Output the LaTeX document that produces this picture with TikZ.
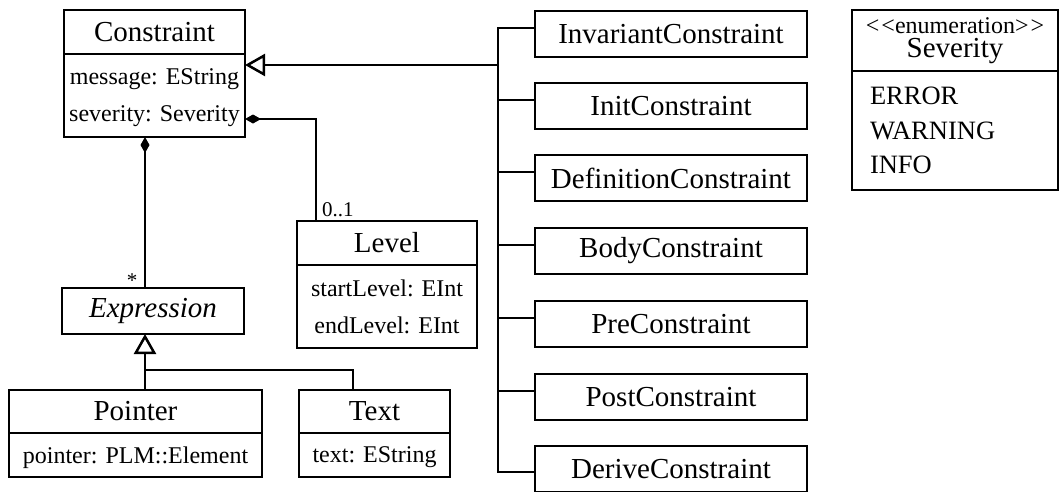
\documentclass[tikz,border=0pt]{standalone}
\usepackage{fontspec}
\setmainfont{Liberation Serif}
\usetikzlibrary{arrows.meta, positioning}

\newcommand{\clsfont}{\fontsize{29}{32}\selectfont}
\newcommand{\attfont}{\fontsize{24}{37}\selectfont}
\newcommand{\litfont}{\fontsize{26.5}{34.5}\selectfont}
\newcommand{\mulfont}{\fontsize{21}{24}\selectfont}
\newcommand{\stereofont}{\fontsize{24}{26}\selectfont}

\begin{document}
\begin{tikzpicture}[x=1pt, y=-1pt,
        uml/.style={draw, line width=2.5pt, inner sep=0pt, outer sep=0pt, align=center},
        cls/.style={uml, font=\clsfont, minimum height=44pt},
        att/.style={uml, font=\attfont, text depth=0pt},
        sub/.style={uml, font=\clsfont, minimum width=272pt, minimum height=46pt},
        conn/.style={line width=2.5pt},
        gen/.style={conn, -{Triangle[open, length=20pt, width=22pt]}},
        comp/.style={conn, -{Diamond[length=16pt, width=9pt]}},
        mult/.style={font=\mulfont, inner sep=0pt}
    ]
        \useasboundingbox (0,0) rectangle (1059,491);
        \clip (0,0) rectangle (1059,491);

        % classes on the left
        \node[cls, minimum width=181pt] (conH) at (154.5,32) {Constraint};
        \node[att, minimum width=181pt, minimum height=83pt, below=0pt of conH] (conA) {message: EString\\severity: Severity};
        \node[cls, minimum width=180pt] (lvlH) at (387,243) {Level};
        \node[att, minimum width=180pt, minimum height=83pt, below=0pt of lvlH] (lvlA) {startLevel: EInt\\endLevel: EInt};
        \node[cls, minimum width=182pt, minimum height=46pt, font=\clsfont\itshape] (expr) at (153,311) {Expression};
        \node[cls, minimum width=253pt, minimum height=43pt] (pntH) at (135.5,411.5) {Pointer};
        \node[att, minimum width=253pt, minimum height=44pt, below=0pt of pntH] (pntA) {pointer: PLM::Element};
        \node[cls, minimum width=151pt, minimum height=43pt] (txtH) at (374.5,411.5) {Text};
        \node[att, minimum width=151pt, minimum height=44pt, below=0pt of txtH] (txtA) {text: EString};

        % subclasses
        \foreach \n/\nm/\y in {inv/Invariant/34, ini/Init/106, def/Definition/178, bod/Body/251, pre/Pre/324, pos/Post/397, der/Derive/469}
            \node[sub] (\n) at (671,\y) {\nm Constraint};

        % enumeration
        \node[cls, minimum width=206pt, minimum height=61pt] (sevH) at (955,40.5) {{\stereofont <\kern2pt<enumeration>\kern2pt>}\\[-8pt]Severity};
        \node[uml, font=\litfont, text width=170pt, inner xsep=18pt, minimum height=119pt, align=left, below=0pt of sevH] (sevA) {ERROR\\WARNING\\INFO};

        % generalization bus
        \coordinate (busB) at (498,472);
        \coordinate (busJ) at (498,65);
        \draw[conn] (inv.west |- 0,28) -| (busB) -- (der.west |- busB);
        \foreach \n/\y in {ini/100, def/172, bod/245, pre/318, pos/391}
            \draw[conn] (busB |- 0,\y) -- (\n.west |- 0,\y);
        \draw[gen] (busJ) -- (busJ -| conA.east);

        % compositions
        \draw[comp] (lvlH.north -| 316,0) |- (conA.east |- 0,119);
        \node[mult, anchor=base west] (m01) at (322,216) {0..1};
        \draw[comp] (expr.north -| 145,0) -- (conA.south -| 145,0);
        \node[mult, anchor=base] (mstar) at (132,287) {*};

        % expression kinds
        \coordinate (jn) at (145,370);
        \draw[gen] (jn) -- (expr.south -| jn);
        \draw[conn] (pntH.north -| jn) -- (jn) -| (txtH.north -| 353,0);
    \end{tikzpicture}
\end{document}
